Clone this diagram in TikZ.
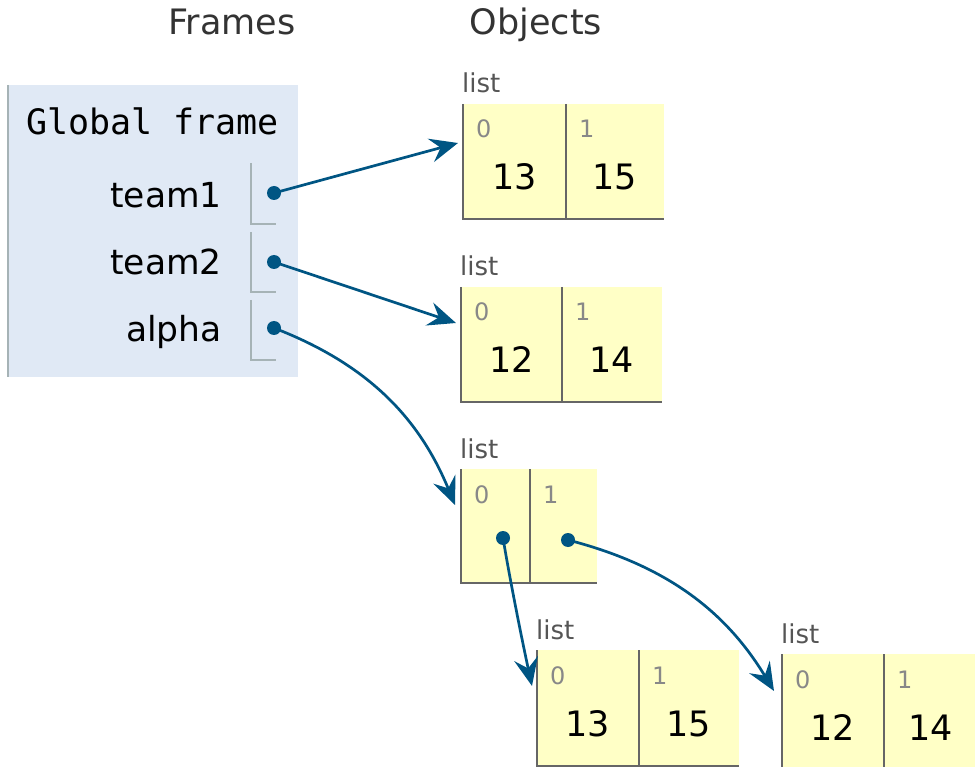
\documentclass[tikz,border=0pt]{standalone}
\usepackage{fontspec}
\setmainfont{DejaVu Sans}
\newfontfamily\pymono{DejaVu Sans Mono}
\usetikzlibrary{arrows.meta}
\definecolor{framebg}{HTML}{E0E9F5}
\definecolor{fborder}{HTML}{A6B3B6}
\definecolor{listbg}{HTML}{FFFFC6}
\definecolor{lborder}{HTML}{666666}
\definecolor{ptrcol}{HTML}{005583}
\definecolor{headcol}{HTML}{333333}
\definecolor{labcol}{HTML}{555555}
\definecolor{idxcol}{HTML}{888888}
\tikzset{
  head/.style={text=headcol, font=\fontsize{35}{40}\selectfont, inner sep=0pt},
  frametitle/.style={font=\pymono\fontsize{35}{40}\selectfont, inner sep=0pt},
  varname/.style={font=\fontsize{34.5}{38}\selectfont, inner sep=0pt, anchor=base east},
  framebox/.style={fill=framebg, inner sep=0pt, outer sep=0pt, anchor=north west},
  vbox/.style={inner sep=0pt, outer sep=0pt, anchor=north west, minimum width=25pt},
  vline/.style={draw=fborder, line width=1.5pt},
  lab/.style={text=labcol, font=\fontsize{26}{30}\selectfont, inner sep=0pt},
  cell/.style={fill=listbg, inner sep=0pt, outer sep=0pt},
  lline/.style={draw=lborder, line width=1.5pt},
  idx/.style={text=idxcol, font=\fontsize{24}{28}\selectfont, inner sep=0pt},
  val/.style={font=\fontsize{35}{40}\selectfont, inner sep=0pt},
  dot/.style={circle, fill=ptrcol, inner sep=0pt, minimum size=14pt},
  ptr/.style={draw=ptrcol, line width=2.7pt, -{Stealth[length=28pt,width=24pt,inset=10pt]}},
}
\newcommand\mklist[9]{%
  \node[lab, anchor=base west] (#1lab) at (#2-1,#3-11) {list};
  \node[cell, minimum width=#4pt, minimum height=#6pt, anchor=north west] (#1a) at (#2,#3) {};
  \node[cell, minimum width=#5pt, minimum height=#6pt, anchor=north west] (#1b) at (#1a.north east) {};
  \draw[lline] (#1a.north west) -- (#1a.south west) -- (#1b.south east);
  \draw[lline] (#1b.north west) -- (#1b.south west);
  \node[idx, anchor=base west] (#1ia) at ([shift={(13pt,-34pt)}]#1a.north west) {0};
  \node[idx, anchor=base west] (#1ib) at ([shift={(13pt,-34pt)}]#1b.north west) {1};
  #9
}
\begin{document}
\begin{tikzpicture}[x=1pt,y=-1pt]
\useasboundingbox (0,0) rectangle (975,767);
% headings
\node[head, anchor=base] (hframes) at (232,35) {Frames};
\node[head, anchor=base] (hobjects) at (536,35) {Objects};
% global frame
\node[framebox, minimum width=290pt, minimum height=292pt] (gf) at (8,85) {};
\draw[vline] (gf.north west) -- (gf.south west);
\node[frametitle, anchor=base west] (gft) at (26,135) {Global frame};
\node[varname] (n1) at (222,208) {team1};
\node[varname] (n2) at (222,275) {team2};
\node[varname] (n3) at (222,342) {alpha};
\node[vbox, minimum height=61pt] (v1) at (251,163) {};
\node[vbox, minimum height=60pt] (v2) at (251,232) {};
\node[vbox, minimum height=60pt] (v3) at (251,300) {};
\foreach \v in {v1,v2,v3}{\draw[vline] (\v.north west) -- (\v.south west) -- (\v.south east);}
% lists
\mklist{la}{463}{104}{103}{98}{115}{}{}{%
  \node[val, anchor=base] (lava) at ([yshift=-86pt]laa.north) {13};
  \node[val, anchor=base] (lavb) at ([yshift=-86pt]lab.north) {15};}
\mklist{lb}{461}{287}{101}{100}{115}{}{}{%
  \node[val, anchor=base] (lbva) at ([yshift=-86pt]lba.north) {12};
  \node[val, anchor=base] (lbvb) at ([yshift=-86pt]lbb.north) {14};}
\mklist{lc}{461}{469}{69}{67}{114}{}{}{}
\mklist{ld}{537}{650}{102}{100}{116}{}{}{%
  \node[val, anchor=base] (ldva) at ([yshift=-86pt]lda.north) {13};
  \node[val, anchor=base] (ldvb) at ([yshift=-86pt]ldb.north) {15};}
\mklist{le}{782}{654}{102}{93}{120}{}{}{%
  \node[val, anchor=base] (leva) at ([yshift=-86pt]lea.north) {12};
  \node[val, anchor=base] (levb) at ([yshift=-86pt]leb.north) {14};}
% pointer dots
\node[dot] (d1) at (274,193) {};
\node[dot] (d2) at (274,262) {};
\node[dot] (d3) at (274,328) {};
\node[dot] (d4) at (503,538) {};
\node[dot] (d5) at (568,540) {};
% pointers
\draw[ptr] (d1.center) -- ([shift={(-5pt,-39pt)}]laa.north west);
\draw[ptr] (d2.center) -- ([shift={(-5pt,-36pt)}]lba.north west);
\draw[ptr] (d3.center) .. controls (370,365) and (420,420) .. ([shift={(-6pt,-36pt)}]lca.north west);
\draw[ptr] (d4.center) .. controls (510,580) and (522,640) .. ([shift={(-5pt,-36pt)}]lda.north west);
\draw[ptr] (d5.center) .. controls (665,565) and (725,610) .. ([shift={(-8pt,-37pt)}]lea.north west);
\end{tikzpicture}
\end{document}
